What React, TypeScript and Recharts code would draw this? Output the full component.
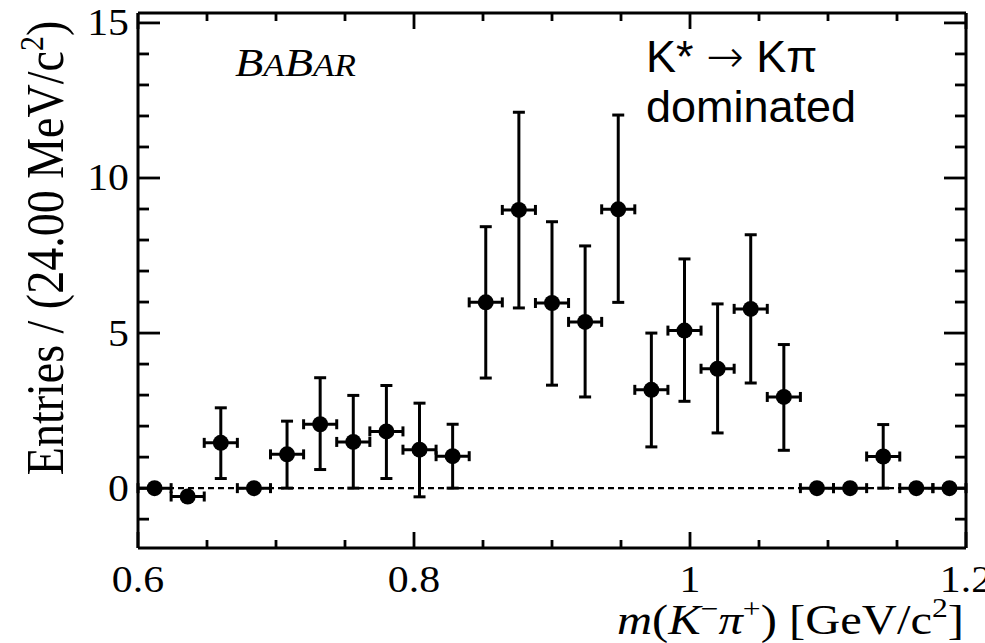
import React from "react";
import {
  ComposedChart,
  Scatter,
  XAxis,
  YAxis,
  ErrorBar,
  ReferenceLine,
} from "recharts";

// ---- data ----
const binCenters = [
  0.612, 0.636, 0.66, 0.684, 0.708, 0.732, 0.756, 0.78, 0.804, 0.828, 0.852,
  0.876, 0.9, 0.924, 0.948, 0.972, 0.996, 1.02, 1.044, 1.068, 1.092, 1.116,
  1.14, 1.164, 1.188,
];
const entries = [
  0, -0.27, 1.46, 0, 1.09, 2.06, 1.49, 1.83, 1.24, 1.03, 5.99, 8.97, 5.97,
  5.36, 8.99, 3.17, 5.08, 3.85, 5.78, 2.94, 0, 0, 1.02, 0, 0,
];
const errLow = [
  null, null, 1.15, null, 1.09, 1.46, 1.49, 1.52, 1.52, 1.03, 2.44, 3.16, 2.65,
  2.42, 3.0, 1.84, 2.28, 2.07, 2.39, 1.72, null, null, 1.02, null, null,
];
const errHigh = [
  null, null, 1.13, null, 1.07, 1.5, 1.5, 1.48, 1.5, 1.03, 2.44, 3.15, 2.62,
  2.45, 3.04, 1.83, 2.31, 2.09, 2.39, 1.69, null, null, 1.03, null, null,
];
const binHalfWidth = 0.012;

const xTicks = [
  0.6, 0.65, 0.7, 0.75, 0.8, 0.85, 0.9, 0.95, 1.0, 1.05, 1.1, 1.15, 1.2,
];
const xMajorLabels: Record<string, string> = {
  "0.6": "0.6",
  "0.8": "0.8",
  "1": "1",
  "1.2": "1.2",
};
const yTicks = [-1, 0, 1, 2, 3, 4, 5, 6, 7, 8, 9, 10, 11, 12, 13, 14, 15];
const yMajorLabels: Record<string, string> = {
  "0": "0",
  "5": "5",
  "10": "10",
  "15": "15",
};

const X_DOMAIN: [number, number] = [0.6, 1.2];
const Y_MIN = -1.93;
const Y_MAX = 15.32;

// ---- layout ----
const W = 985;
const H = 643;
const PL = 138;
const PR = 966;
const PT = 13;
const PB = 548;
const SX = 1.13;
const SERIF = "'Liberation Serif', 'DejaVu Serif', serif";
const SANS = "'Liberation Sans', Arial, sans-serif";

const data = binCenters.map((x, i) => ({
  x,
  y: entries[i],
  yErr:
    errLow[i] === null ? null : [errLow[i] as number, errHigh[i] as number],
  xErr: binHalfWidth,
}));

const keyOf = (v: number) => String(Math.round(v * 100) / 100);

const XTick = (props: any) => {
  const { x, payload } = props;
  const label = xMajorLabels[keyOf(payload.value)];
  const len = label ? 16 : 8;
  return (
    <g>
      <line x1={x} x2={x} y1={PB} y2={PB - len} stroke="#000" strokeWidth={2.8} />
      <line x1={x} x2={x} y1={PT} y2={PT + len} stroke="#000" strokeWidth={2.8} />
      {label && (
        <text
          transform={`translate(${x},${PB + 44}) scale(${SX},1)`}
          textAnchor="middle"
          fontFamily={SERIF}
          fontSize={37}
          fill="#000"
        >
          {label}
        </text>
      )}
    </g>
  );
};

const YTick = (props: any) => {
  const { y, payload } = props;
  const label = yMajorLabels[keyOf(payload.value)];
  const len = label ? 22 : 11;
  return (
    <g>
      <line x1={PL} x2={PL + len} y1={y} y2={y} stroke="#000" strokeWidth={2.8} />
      <line x1={PR} x2={PR - len} y1={y} y2={y} stroke="#000" strokeWidth={2.8} />
      {label && (
        <text
          transform={`translate(${PL - 9},${y + 12.5}) scale(${SX},1)`}
          textAnchor="end"
          fontFamily={SERIF}
          fontSize={37}
          fill="#000"
        >
          {label}
        </text>
      )}
    </g>
  );
};

const Dot = (props: any) => (
  <circle cx={props.cx} cy={props.cy} r={8} fill="#000" />
);

export default function App() {
  return (
    <div
      style={{
        position: "absolute",
        left: 0,
        top: 0,
        width: W,
        height: H,
        background: "#fff",
        overflow: "hidden",
      }}
    >
      <ComposedChart
        width={W}
        height={H}
        data={data}
        margin={{ top: PT, right: W - PR, bottom: 0, left: 0 }}
      >
        <XAxis
          dataKey="x"
          type="number"
          domain={X_DOMAIN}
          allowDataOverflow
          ticks={xTicks}
          interval={0}
          height={H - PB}
          tickSize={0}
          tickMargin={0}
          tickLine={false}
          tick={<XTick />}
          axisLine={{ stroke: "#000", strokeWidth: 3 }}
        />
        <YAxis
          type="number"
          domain={[Y_MIN, Y_MAX]}
          allowDataOverflow
          ticks={yTicks}
          interval={0}
          width={PL}
          tickSize={0}
          tickMargin={0}
          tickLine={false}
          tick={<YTick />}
          axisLine={{ stroke: "#000", strokeWidth: 3 }}
        />
        <ReferenceLine y={Y_MAX} stroke="#000" strokeWidth={3} />
        <ReferenceLine x={X_DOMAIN[1]} stroke="#000" strokeWidth={3} />
        <ReferenceLine
          y={0}
          stroke="#000"
          strokeWidth={2.2}
          strokeDasharray="6 4"
        />
        <Scatter
          dataKey="y"
          fill="#000"
          shape={<Dot />}
          isAnimationActive={false}
        >
          <ErrorBar
            dataKey="yErr"
            direction="y"
            width={6}
            stroke="#000"
            strokeWidth={3}
            isAnimationActive={false}
          />
          <ErrorBar
            dataKey="xErr"
            direction="x"
            width={5}
            stroke="#000"
            strokeWidth={3}
            isAnimationActive={false}
          />
        </Scatter>
      </ComposedChart>
      <svg
        width={W}
        height={H}
        style={{ position: "absolute", left: 0, top: 0, pointerEvents: "none" }}
      >
        <text
          transform={`translate(63,248) scale(${SX},1) rotate(-90)`}
          textAnchor="middle"
          fontFamily={SERIF}
          fontSize={46}
          fill="#000"
        >
          Entries / (24.00 MeV/c
          <tspan fontSize={30} dy={-18}>
            2
          </tspan>
          <tspan dy={18}>)</tspan>
        </text>
        <text
          transform={`translate(964,634) scale(${SX},1)`}
          textAnchor="end"
          fontFamily={SERIF}
          fontSize={43}
          fill="#000"
        >
          <tspan fontStyle="italic">m</tspan>(
          <tspan fontStyle="italic">K</tspan>
          <tspan fontSize={28} dy={-16}>
            −
          </tspan>
          <tspan fontStyle="italic" dy={16}>
            π
          </tspan>
          <tspan fontSize={28} dy={-16}>
            +
          </tspan>
          <tspan dy={16}>) [GeV/c</tspan>
          <tspan fontSize={28} dy={-17}>
            2
          </tspan>
          <tspan dy={17}>]</tspan>
        </text>
        <text
          transform={`translate(235,76) scale(${SX},1)`}
          fontFamily={SERIF}
          fontStyle="italic"
          fill="#000"
        >
          <tspan fontSize={41}>B</tspan>
          <tspan fontSize={31}>A</tspan>
          <tspan fontSize={41}>B</tspan>
          <tspan fontSize={31}>AR</tspan>
        </text>
        <text x={646} y={72} fontFamily={SANS} fontSize={45} fill="#000">
          K*{" "}
          <tspan fontFamily="'DejaVu Sans', sans-serif" fontWeight={300}>
            →
          </tspan>{" "}
          Kπ
        </text>
        <text x={646} y={122} fontFamily={SANS} fontSize={45} fill="#000">
          dominated
        </text>
      </svg>
    </div>
  );
}
